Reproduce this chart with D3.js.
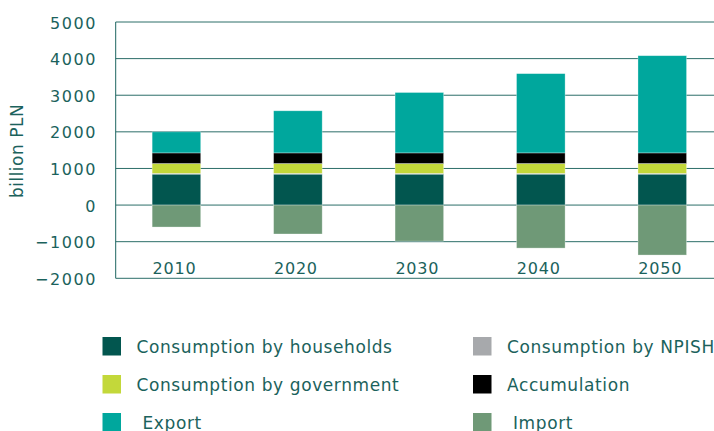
<!DOCTYPE html>
<html>
<head>
<meta charset="utf-8">
<script src="https://cdn.jsdelivr.net/npm/d3@7"></script>
<style>
  body { margin: 0; background: #fff; }
  svg { display: block; font-family: "DejaVu Sans", sans-serif; }
  .legend text { white-space: pre; }
</style>
</head>
<body>
<svg width="714" height="431"></svg>
<script>
// data (billion PLN)
var years = ['2010', '2020', '2030', '2040', '2050'];
var households = [845, 845, 845, 845, 845];
var npish = [20, 20, 20, 20, 20];
var government = [270, 270, 270, 270, 270];
var accumulation = [290, 290, 290, 290, 290];
var exports = [575, 1150, 1650, 2165, 2655];
var imports = [-600, -790, -985, -1175, -1365];
var yTicks = [-2000, -1000, 0, 1000, 2000, 3000, 4000, 5000];

var keys = ['households', 'npish', 'government', 'accumulation', 'export', 'import'];
var names = ['Consumption by households', 'Consumption by NPISH', 'Consumption by government',
  'Accumulation', ' Export', ' Import'];
var colors = ['#02564f', '#a7a9ac', '#c3d83a', '#000000', '#00a79d', '#6f9977'];

const rows = years.map((yr, i) => ({
  year: yr,
  households: households[i],
  npish: npish[i],
  government: government[i],
  accumulation: accumulation[i],
  export: exports[i],
  import: imports[i]
}));

const svg = d3.select('svg');
const textColor = '#1b625c';
const plotLeft = 115.7, plotRight = 723, plotTop = 22, plotBottom = 278.3;

const x = d3.scaleBand().domain(years).range([plotLeft, plotRight]).paddingInner(0.6).paddingOuter(0.3);
const y = d3.scaleLinear().domain([-2000, 5000]).range([plotBottom, plotTop]);
const color = d3.scaleOrdinal(keys, colors);

// grid lines
svg.append('g')
  .selectAll('line')
  .data(yTicks)
  .join('line')
  .attr('x1', plotLeft).attr('x2', 714)
  .attr('y1', d => y(d)).attr('y2', d => y(d))
  .attr('stroke', '#2c6e69')
  .attr('stroke-width', 1);

// left axis line
svg.append('line')
  .attr('x1', plotLeft).attr('x2', plotLeft)
  .attr('y1', y(5000)).attr('y2', y(-2000))
  .attr('stroke', '#1d6660');

// tick labels
svg.append('g')
  .attr('font-size', 16)
  .attr('fill', textColor)
  .attr('letter-spacing', 1.6)
  .attr('text-anchor', 'end')
  .selectAll('text')
  .data(yTicks)
  .join('text')
  .attr('x', 97)
  .attr('y', d => y(d) + 6.5)
  .text(d => d < 0 ? '\u2212' + Math.abs(d) : d);

svg.append('text')
  .attr('transform', 'translate(23,151) rotate(-90)')
  .attr('text-anchor', 'middle')
  .attr('font-size', 17)
  .attr('letter-spacing', 0.5)
  .attr('fill', textColor)
  .text('billion PLN');

// stacked bars
const stack = d3.stack().keys(keys).offset(d3.stackOffsetDiverging);
const series = stack(rows);

svg.append('g')
  .selectAll('g')
  .data(series)
  .join('g')
  .attr('fill', d => color(d.key))
  .selectAll('rect')
  .data(d => d)
  .join('rect')
  .attr('x', d => x(d.data.year))
  .attr('width', x.bandwidth())
  .attr('y', d => y(Math.max(d[0], d[1])))
  .attr('height', d => Math.abs(y(d[0]) - y(d[1])))
  .attr('stroke', 'rgba(255,255,255,0.45)')
  .attr('stroke-width', 0.7);

// year labels
svg.append('g')
  .attr('font-size', 16)
  .attr('fill', textColor)
  .attr('letter-spacing', 0.8)
  .attr('text-anchor', 'middle')
  .selectAll('text')
  .data(years)
  .join('text')
  .attr('x', d => x(d) + x.bandwidth() / 2 - 2)
  .attr('y', 274)
  .text(d => d);

// legend, two columns
const legend = svg.append('g')
  .attr('class', 'legend')
  .attr('font-size', 17)
  .attr('letter-spacing', 0.6)
  .attr('fill', textColor)
  .selectAll('g')
  .data(keys)
  .join('g')
  .attr('transform', (d, i) => `translate(${i % 2 ? 473 : 102.5},${337 + Math.floor(i / 2) * 38})`);

legend.append('rect')
  .attr('width', 18.5).attr('height', 18.5)
  .attr('fill', d => color(d));

legend.append('text')
  .attr('x', 34)
  .attr('y', 15.5)
  .attr('xml:space', 'preserve')
  .text((d, i) => names[i]);
</script>
</body>
</html>
